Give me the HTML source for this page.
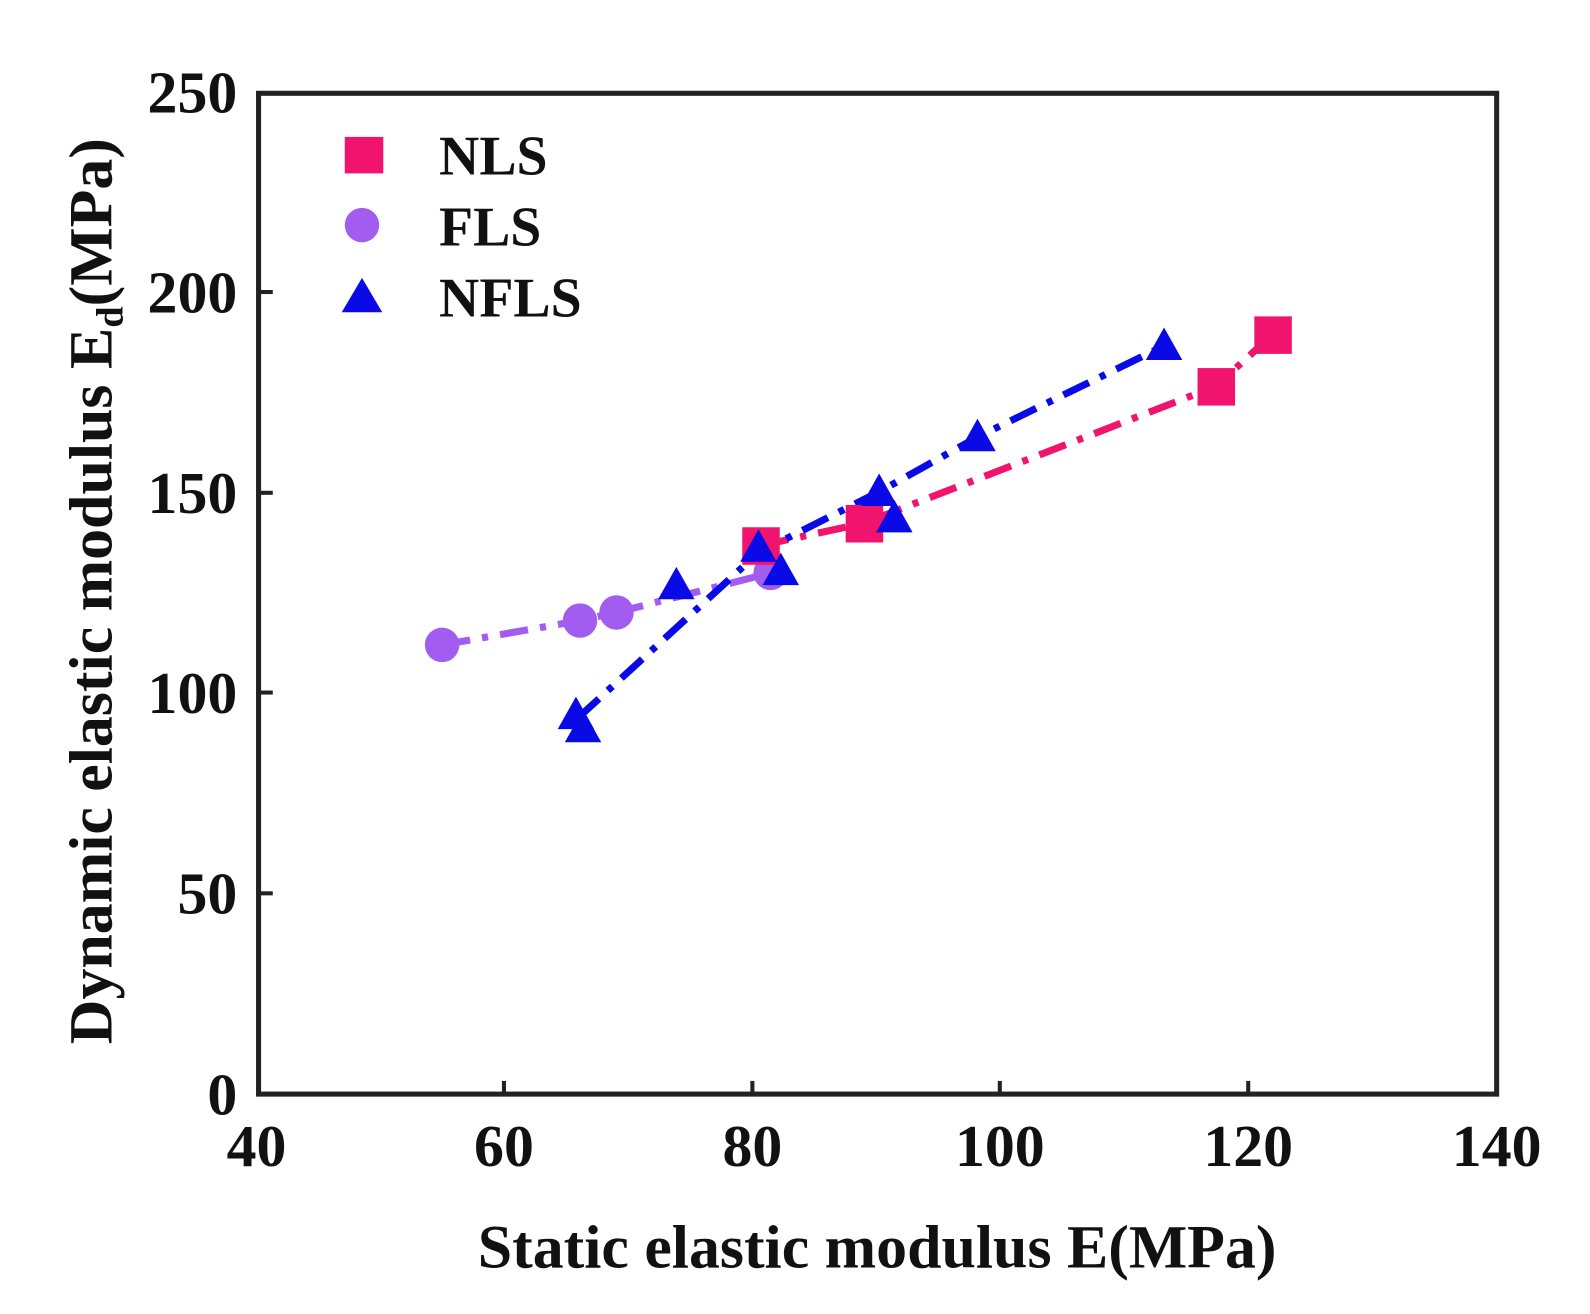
<!DOCTYPE html>
<html><head><meta charset="utf-8"><style>
html,body{margin:0;padding:0;background:#fff;}
svg{display:block;}
text{font-family:"Liberation Serif",serif;font-weight:bold;fill:#111;}
</style></head><body>
<svg width="1590" height="1314" viewBox="0 0 1590 1314" xmlns="http://www.w3.org/2000/svg">
<rect width="1590" height="1314" fill="#fff"/>
<g transform="scale(1.014)">
<g stroke="#222" stroke-width="4">
<line x1="497" y1="1079" x2="497" y2="1066"/>
<line x1="742" y1="1079" x2="742" y2="1066"/>
<line x1="986" y1="1079" x2="986" y2="1066"/>
<line x1="1231" y1="1079" x2="1231" y2="1066"/>
<line x1="255" y1="881" x2="269" y2="881"/>
<line x1="255" y1="683" x2="269" y2="683"/>
<line x1="255" y1="486" x2="269" y2="486"/>
<line x1="255" y1="288" x2="269" y2="288"/>
</g>
<rect x="255" y="92" width="1221" height="987" fill="none" stroke="#222" stroke-width="5"/>
<g font-size="59" text-anchor="end">
<text x="234" y="1099">0</text>
<text x="234" y="901">50</text>
<text x="234" y="703">100</text>
<text x="234" y="506">150</text>
<text x="234" y="308">200</text>
<text x="234" y="111">250</text>
</g>
<g font-size="59" text-anchor="middle">
<text x="253" y="1150">40</text>
<text x="497" y="1150">60</text>
<text x="742" y="1150">80</text>
<text x="986" y="1150">100</text>
<text x="1231" y="1150">120</text>
<text x="1476" y="1150">140</text>
</g>
<text x="865" y="1250" font-size="61" text-anchor="middle">Static elastic modulus E(MPa)</text>
<text transform="translate(110,583) rotate(-90)" font-size="61" text-anchor="middle">Dynamic elastic modulus E<tspan font-size="38" dy="11">d</tspan><tspan dy="-11">(MPa)</tspan></text>
<g fill="none" stroke-width="7" stroke-dasharray="28,12,6,12">
<polyline stroke="#a35cf0" points="436,636 572,612 608,604 760,565"/>
<polyline stroke="#f0146e" points="750,538 852,516 1199,381 1255,330"/>
<polyline stroke="#0a0ae6" points="570,708 748,545 867,485 964,431 1148,341"/>
</g>
<g fill="#a35cf0">
<circle cx="436" cy="636" r="17"/>
<circle cx="572" cy="612" r="17"/>
<circle cx="608" cy="604" r="17"/>
<circle cx="760" cy="565" r="17"/>
</g>
<g fill="#f0146e">
<rect x="732" y="520" width="37" height="37"/>
<rect x="834" y="498" width="37" height="37"/>
<rect x="1181" y="363" width="37" height="37"/>
<rect x="1237" y="312" width="37" height="37"/>
</g>
<g fill="#0a0ae6">
<polygon points="568,687 550,719 586,719"/>
<polygon points="575,700 557,732 593,732"/>
<polygon points="667,559 649,591 685,591"/>
<polygon points="748,522 730,554 766,554"/>
<polygon points="770,545 752,577 788,577"/>
<polygon points="867,467 849,499 885,499"/>
<polygon points="882,493 864,525 900,525"/>
<polygon points="964,413 946,445 982,445"/>
<polygon points="1148,323 1130,355 1166,355"/>
</g>
<rect x="340" y="135" width="38" height="36" fill="#f0146e"/>
<circle cx="357" cy="222" r="17" fill="#a35cf0"/>
<polygon points="357,274 337,308 377,308" fill="#0a0ae6"/>
<g font-size="55">
<text x="433" y="172">NLS</text>
<text x="433" y="242">FLS</text>
<text x="433" y="312">NFLS</text>
</g>
</g>
</svg>
</body></html>
